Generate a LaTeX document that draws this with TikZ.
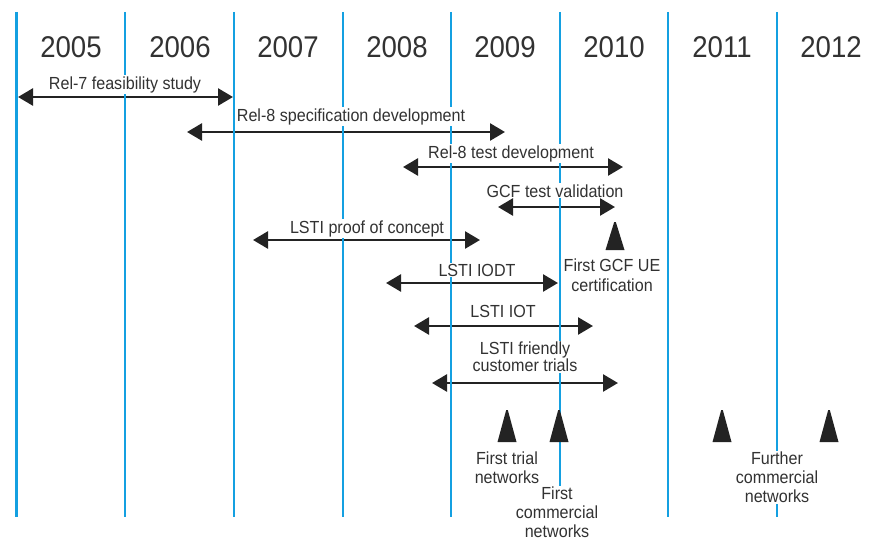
\documentclass[tikz,border=0pt]{standalone}
\usepackage{fontspec}
\setmainfont[FakeStretch=0.92]{Liberation Sans}
\usetikzlibrary{arrows.meta}
\definecolor{yearblue}{RGB}{20,160,225}
\definecolor{ink}{RGB}{35,35,35}
\definecolor{txt}{RGB}{50,50,50}
\begin{document}
\begin{tikzpicture}[x=1pt,y=-1pt,
  yearline/.style={yearblue, line width=2.6pt},
  span/.style={ink, line width=2.6pt, {Triangle[length=15pt,width=17pt]}-{Triangle[length=15pt,width=17pt]}},
  lbl/.style={fill=white, inner sep=1pt, text=txt, font=\fontsize{17.5}{19}\selectfont, anchor=base},
  note/.style={lbl, align=center, anchor=north},
  yearlbl/.style={text=txt, font=\fontsize{30}{32}\selectfont, anchor=base, inner sep=0pt},
  marker/.style={fill=ink}]
\useasboundingbox (0,0) rectangle (877,543);

% arrow end points
\coordinate (a1s) at (18,97);  \coordinate (a1e) at (233,97);
\coordinate (a2s) at (187,132); \coordinate (a2e) at (505,132);
\coordinate (a3s) at (403,167); \coordinate (a3e) at (623,167);
\coordinate (a4s) at (498,207); \coordinate (a4e) at (615,207);
\coordinate (a5s) at (253,240); \coordinate (a5e) at (480,240);
\coordinate (a6s) at (386,283); \coordinate (a6e) at (558,283);
\coordinate (a7s) at (414,326); \coordinate (a7e) at (593,326);
\coordinate (a8s) at (432,383); \coordinate (a8e) at (618,383);

\draw[span] (a1s) -- (a1e);
\draw[span] (a2s) -- (a2e);
\draw[span] (a3s) -- (a3e);
\draw[span] (a4s) -- (a4e);
\draw[span] (a5s) -- (a5e);
\draw[span] (a6s) -- (a6e);
\draw[span] (a7s) -- (a7e);
\draw[span] (a8s) -- (a8e);

% year lines
\foreach \x [count=\i] in {16.5,125,234,343,451,560,668,777}{
  \coordinate (lt\i) at (\x,12);
  \coordinate (lb\i) at (\x,517);
  \draw[yearline] (lt\i) -- (lb\i);
}

% years
\foreach \x/\yr in {71/2005,180/2006,288/2007,397/2008,505/2009,614/2010,722/2011,831/2012}{
  \node[yearlbl] (y\yr) at (\x,57) {\yr};
}

% labels
\node[lbl] (t1) at (125,89) {Rel-7 feasibility study};
\node[lbl] (t2) at (351,121) {Rel-8 specification development};
\node[lbl] (t3) at (511,158) {Rel-8 test development};
\node[lbl] (t4) at (555,197) {GCF test validation};
\node[lbl] (t5) at (367,233) {LSTI proof of concept};
\node[lbl] (t6) at (477,276) {LSTI IODT};
\node[lbl] (t7) at (503,317) {LSTI IOT};
\node[note, font=\fontsize{17.5}{17}\selectfont] (t8) at (525,341) {LSTI friendly\\customer trials};

% milestone markers
\foreach \x/\top/\bot [count=\i] in {615/222/250, 507/410/442, 559/410/442, 722/410/442, 829/410/442}{
  \fill[marker] (\x-9.5,\bot) -- (\x-0.8,\top) -- (\x+0.8,\top) -- (\x+9.5,\bot) -- cycle;
}

\node[note] (m1) at (612,258) {First GCF UE\\[1pt]certification};
\node[note] (m2) at (507,451) {First trial\\networks};
\node[note] (m3) at (557,486) {First\\commercial\\networks};
\node[note] (m4) at (777,451) {Further\\commercial\\networks};
\end{tikzpicture}
\end{document}
